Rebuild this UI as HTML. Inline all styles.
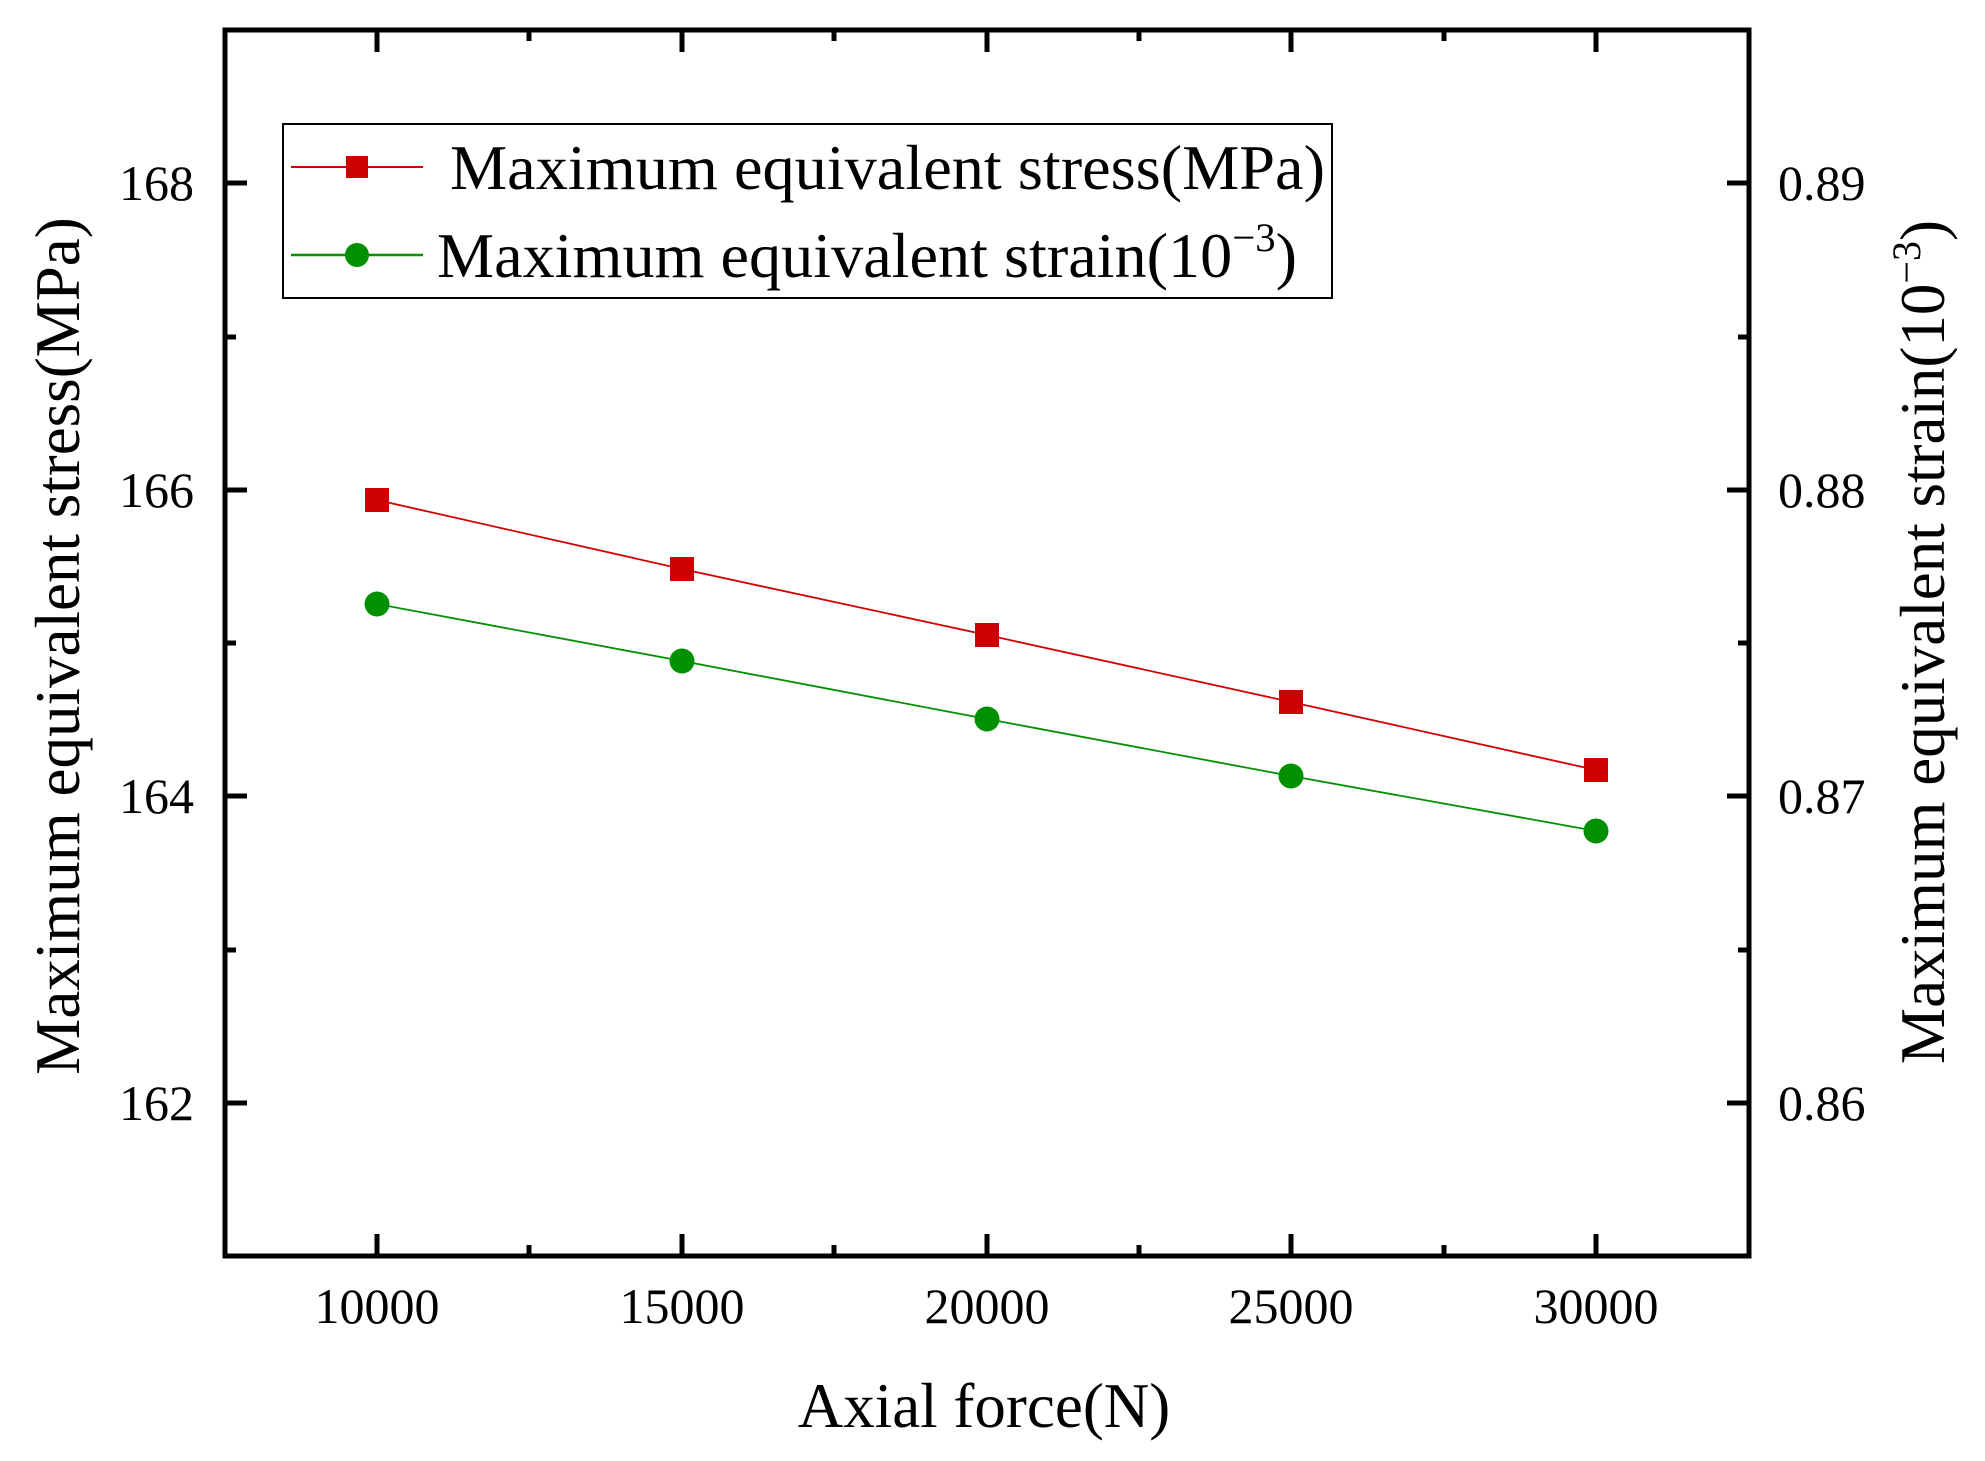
<!DOCTYPE html>
<html><head><meta charset="utf-8"><style>
html,body{margin:0;padding:0;background:#fff;}
svg{display:block;}
text{font-family:"Liberation Serif",serif;fill:#000;}
</style></head><body>
<svg width="1985" height="1461" viewBox="0 0 1985 1461" xmlns="http://www.w3.org/2000/svg">
<rect width="1985" height="1461" fill="#fff"/>
<g stroke="#000" stroke-width="5">
<line x1="377" y1="1256" x2="377" y2="1234"/><line x1="682" y1="1256" x2="682" y2="1234"/><line x1="987" y1="1256" x2="987" y2="1234"/><line x1="1291" y1="1256" x2="1291" y2="1234"/><line x1="1596" y1="1256" x2="1596" y2="1234"/>
<line x1="529" y1="1256" x2="529" y2="1245"/><line x1="834" y1="1256" x2="834" y2="1245"/><line x1="1139" y1="1256" x2="1139" y2="1245"/><line x1="1444" y1="1256" x2="1444" y2="1245"/>
<line x1="377" y1="30" x2="377" y2="52"/><line x1="682" y1="30" x2="682" y2="52"/><line x1="987" y1="30" x2="987" y2="52"/><line x1="1291" y1="30" x2="1291" y2="52"/><line x1="1596" y1="30" x2="1596" y2="52"/>
<line x1="529" y1="30" x2="529" y2="41"/><line x1="834" y1="30" x2="834" y2="41"/><line x1="1139" y1="30" x2="1139" y2="41"/><line x1="1444" y1="30" x2="1444" y2="41"/>
<line x1="225" y1="183" x2="247" y2="183"/><line x1="225" y1="490" x2="247" y2="490"/><line x1="225" y1="796" x2="247" y2="796"/><line x1="225" y1="1103" x2="247" y2="1103"/>
<line x1="225" y1="337" x2="236" y2="337"/><line x1="225" y1="643" x2="236" y2="643"/><line x1="225" y1="950" x2="236" y2="950"/>
<line x1="1749" y1="183" x2="1727" y2="183"/><line x1="1749" y1="490" x2="1727" y2="490"/><line x1="1749" y1="796" x2="1727" y2="796"/><line x1="1749" y1="1103" x2="1727" y2="1103"/>
<line x1="1749" y1="337" x2="1738" y2="337"/><line x1="1749" y1="643" x2="1738" y2="643"/><line x1="1749" y1="950" x2="1738" y2="950"/>
</g>
<rect x="225" y="30" width="1524" height="1226" fill="none" stroke="#000" stroke-width="5"/>
<polyline points="377,500 682,569 987,635 1291,702 1596,770" fill="none" stroke="#d40000" stroke-width="1.8"/>
<polyline points="377,604 682,661 987,719 1291,776 1596,831" fill="none" stroke="#009000" stroke-width="1.8"/>
<g fill="#cc0000">
<rect x="365" y="488" width="24" height="24"/><rect x="670" y="557" width="24" height="24"/><rect x="975" y="623" width="24" height="24"/><rect x="1279" y="690" width="24" height="24"/><rect x="1584" y="758" width="24" height="24"/>
</g>
<g fill="#009000">
<circle cx="377" cy="604" r="12.5"/><circle cx="682" cy="661" r="12.5"/><circle cx="987" cy="719" r="12.5"/><circle cx="1291" cy="776" r="12.5"/><circle cx="1596" cy="831" r="12.5"/>
</g>
<g font-size="50" text-anchor="middle">
<text x="377" y="1323">10000</text><text x="682" y="1323">15000</text><text x="987" y="1323">20000</text><text x="1291" y="1323">25000</text><text x="1596" y="1323">30000</text>
</g>
<g font-size="50" text-anchor="end">
<text x="194" y="200">168</text><text x="194" y="507">166</text><text x="194" y="813">164</text><text x="194" y="1120">162</text>
</g>
<g font-size="50" text-anchor="start">
<text x="1778" y="200">0.89</text><text x="1778" y="507">0.88</text><text x="1778" y="813">0.87</text><text x="1778" y="1120">0.86</text>
</g>
<text x="984" y="1427" font-size="63" text-anchor="middle">Axial force(N)</text>
<text transform="translate(79,646) rotate(-90)" font-size="63" text-anchor="middle">Maximum equivalent stress(MPa)</text>
<text transform="translate(1944,642) rotate(-90)" font-size="63" text-anchor="middle">Maximum equivalent strain(10<tspan font-size="40" dy="-24">−3</tspan><tspan dy="24">)</tspan></text>
<rect x="283" y="124" width="1049" height="174" fill="#fff" stroke="#000" stroke-width="2"/>
<line x1="291" y1="167" x2="423" y2="167" stroke="#d40000" stroke-width="2"/>
<rect x="346" y="156" width="22" height="22" fill="#cc0000"/>
<line x1="291" y1="255" x2="423" y2="255" stroke="#009000" stroke-width="2.5"/>
<circle cx="357" cy="255" r="12" fill="#009000"/>
<text x="450" y="189" font-size="63" textLength="875" lengthAdjust="spacingAndGlyphs">Maximum equivalent stress(MPa)</text>
<text x="437" y="277" font-size="63" textLength="860" lengthAdjust="spacingAndGlyphs">Maximum equivalent strain(10<tspan font-size="40" dy="-26">−3</tspan><tspan dy="26">)</tspan></text>
</svg>
</body></html>
